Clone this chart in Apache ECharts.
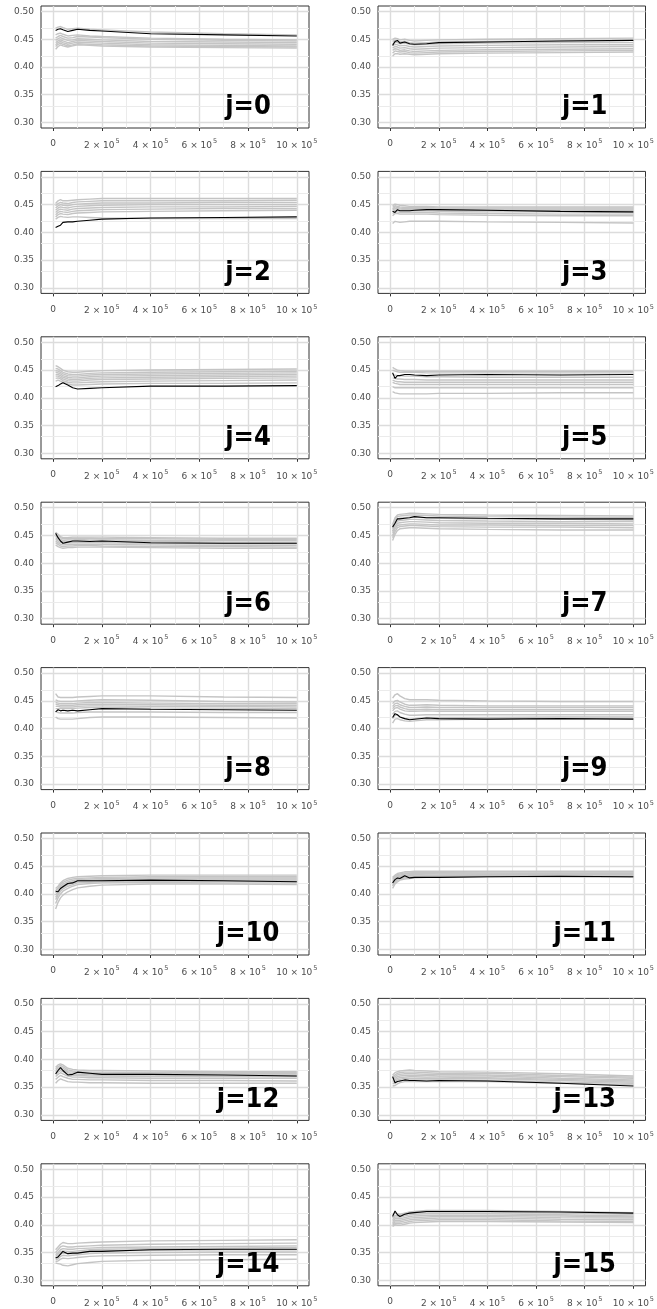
<!DOCTYPE html>
<html><head><meta charset="utf-8">
<script src="https://cdn.jsdelivr.net/npm/echarts@6/dist/echarts.min.js"></script>
<style>html,body{margin:0;padding:0;background:#fff}#c{width:657px;height:1309px}</style>
</head><body><div id="c"></div>
<script>
const xValues = [10000,20000,30000,40000,60000,80000,100000,150000,200000,400000,700000,1000000];
const panelNames = ['j=0','j=1','j=2','j=3','j=4','j=5','j=6','j=7','j=8','j=9','j=10','j=11','j=12','j=13','j=14','j=15'];
const xTicks = [0,200000,400000,600000,800000,1000000];
const xMinor = [100000,300000,500000,700000,900000];
const yTicks = [0.30,0.35,0.40,0.45,0.50];
const yMinor = [0.325,0.375,0.425,0.475];

const black0 = [.466,.468,.469,.467,.464,.466,.468,.466,.465,.460,.458,.456];
const grey0 = [
 [.470,.472,.473,.471,.468,.469,.470,.468,.467,.463,.460,.458],
 [.458,.460,.461,.459,.456,.457,.458,.456,.455,.452,.450,.449],
 [.452,.455,.457,.455,.452,.453,.455,.454,.453,.450,.448,.447],
 [.448,.451,.453,.451,.448,.449,.451,.450,.449,.446,.445,.444],
 [.444,.447,.449,.447,.444,.446,.448,.447,.446,.443,.442,.441],
 [.440,.444,.446,.444,.441,.443,.445,.444,.443,.440,.439,.438],
 [.437,.441,.443,.441,.438,.440,.442,.441,.440,.438,.437,.436],
 [.432,.437,.440,.438,.436,.438,.440,.439,.438,.436,.435,.434]];

const black1 = [.439,.446,.448,.443,.445,.442,.441,.442,.444,.445,.447,.448];
const grey1 = [
 [.450,.452,.451,.449,.450,.448,.447,.448,.449,.450,.451,.452],
 [.446,.448,.447,.445,.446,.444,.443,.444,.445,.446,.447,.448],
 [.442,.445,.444,.442,.443,.441,.440,.441,.442,.443,.444,.444],
 [.438,.441,.440,.438,.439,.437,.436,.437,.438,.439,.440,.440],
 [.434,.437,.436,.434,.435,.433,.432,.433,.434,.435,.436,.437],
 [.430,.433,.432,.430,.431,.429,.428,.429,.430,.431,.432,.433],
 [.425,.429,.428,.427,.428,.426,.425,.426,.427,.428,.429,.430],
 [.420,.424,.424,.423,.424,.423,.422,.423,.424,.425,.426,.427]];

const black2 = [.409,.411,.413,.418,.419,.419,.420,.422,.424,.426,.427,.428];
const grey2 = [
 [.452,.457,.459,.457,.457,.458,.459,.460,.461,.461,.461,.461],
 [.448,.452,.454,.453,.452,.454,.455,.456,.457,.457,.457,.458],
 [.444,.448,.450,.449,.448,.450,.451,.452,.453,.453,.454,.454],
 [.440,.444,.446,.445,.444,.446,.447,.448,.449,.450,.450,.450],
 [.436,.440,.442,.441,.440,.442,.443,.444,.445,.446,.446,.447],
 [.432,.436,.438,.437,.436,.438,.439,.440,.441,.442,.443,.443],
 [.428,.432,.434,.433,.432,.434,.435,.436,.437,.438,.439,.440],
 [.424,.427,.429,.428,.427,.428,.428,.427,.426,.425,.425,.425]];

const black3 = [.438,.436,.441,.439,.439,.439,.440,.441,.441,.440,.438,.437];
const grey3 = [
 [.448,.451,.450,.449,.448,.447,.447,.447,.446,.446,.446,.446],
 [.445,.448,.447,.446,.445,.445,.445,.445,.444,.444,.444,.444],
 [.442,.446,.445,.444,.443,.443,.443,.443,.442,.442,.442,.442],
 [.440,.443,.443,.442,.441,.441,.441,.441,.440,.440,.440,.440],
 [.437,.440,.440,.439,.439,.439,.439,.439,.438,.437,.437,.436],
 [.434,.437,.437,.436,.436,.436,.436,.436,.435,.434,.433,.433],
 [.430,.434,.434,.433,.433,.433,.433,.433,.432,.431,.430,.430],
 [.416,.420,.419,.418,.419,.420,.420,.420,.420,.419,.418,.417]];

const black4 = [.420,.422,.425,.427,.423,.418,.416,.417,.418,.421,.421,.422];
const grey4 = [
 [.458,.456,.453,.450,.447,.446,.446,.448,.449,.450,.451,.452],
 [.453,.452,.449,.446,.443,.442,.442,.444,.445,.446,.447,.448],
 [.449,.448,.446,.443,.440,.439,.439,.441,.442,.443,.444,.445],
 [.446,.445,.443,.440,.437,.436,.436,.438,.439,.440,.441,.442],
 [.442,.442,.440,.437,.434,.433,.433,.435,.436,.437,.438,.439],
 [.439,.439,.437,.434,.431,.430,.430,.432,.433,.434,.435,.436],
 [.435,.436,.434,.431,.428,.427,.427,.428,.429,.430,.431,.432],
 [.430,.432,.430,.428,.425,.423,.423,.424,.425,.426,.426,.427]];

const black5 = [.445,.435,.440,.440,.442,.442,.441,.440,.441,.442,.441,.442];
const grey5 = [
 [.455,.452,.450,.449,.448,.448,.448,.448,.448,.448,.448,.448],
 [.450,.448,.447,.446,.446,.446,.446,.445,.445,.445,.445,.445],
 [.442,.441,.440,.440,.439,.439,.439,.438,.438,.437,.437,.437],
 [.436,.435,.434,.434,.433,.433,.433,.432,.432,.432,.432,.432],
 [.432,.430,.429,.429,.428,.428,.428,.428,.428,.428,.428,.428],
 [.428,.426,.425,.424,.424,.424,.424,.424,.424,.424,.424,.424],
 [.420,.418,.418,.418,.418,.418,.418,.418,.418,.418,.418,.418],
 [.411,.409,.408,.407,.407,.407,.407,.407,.408,.408,.409,.409]];

const black6 = [.454,.446,.440,.436,.438,.440,.440,.439,.440,.437,.436,.436];
const grey6 = [
 [.456,.452,.448,.446,.446,.447,.447,.447,.447,.446,.445,.445],
 [.452,.449,.446,.444,.444,.445,.445,.445,.444,.444,.443,.443],
 [.449,.446,.443,.441,.442,.442,.443,.442,.442,.441,.441,.441],
 [.446,.443,.440,.439,.439,.440,.440,.440,.439,.439,.438,.438],
 [.443,.440,.437,.436,.437,.437,.437,.437,.437,.436,.435,.435],
 [.440,.437,.434,.433,.434,.434,.434,.434,.434,.433,.432,.432],
 [.437,.434,.431,.430,.431,.431,.432,.432,.431,.430,.430,.429],
 [.433,.430,.428,.427,.428,.428,.429,.429,.429,.428,.427,.427]];

const black7 = [.465,.472,.480,.480,.481,.482,.484,.482,.482,.481,.480,.480];
const grey7 = [
 [.470,.482,.487,.488,.489,.490,.490,.489,.488,.487,.486,.485],
 [.466,.478,.484,.485,.486,.487,.487,.486,.485,.484,.483,.482],
 [.462,.474,.480,.481,.482,.483,.483,.482,.481,.480,.479,.478],
 [.458,.470,.476,.477,.478,.479,.479,.478,.477,.476,.475,.475],
 [.455,.466,.472,.473,.474,.475,.475,.474,.473,.472,.472,.471],
 [.450,.462,.468,.469,.470,.471,.471,.470,.469,.469,.468,.468],
 [.446,.457,.464,.466,.467,.468,.468,.467,.466,.465,.465,.464],
 [.441,.452,.459,.462,.463,.464,.464,.463,.462,.461,.460,.460]];

const black8 = [.430,.434,.432,.433,.432,.433,.432,.434,.436,.435,.434,.433];
const grey8 = [
 [.463,.457,.456,.456,.456,.456,.457,.458,.459,.459,.457,.456],
 [.452,.450,.449,.449,.449,.449,.450,.451,.452,.451,.449,.448],
 [.447,.446,.445,.445,.445,.445,.446,.447,.447,.446,.445,.445],
 [.444,.443,.442,.442,.442,.442,.443,.444,.444,.443,.442,.442],
 [.440,.440,.439,.439,.439,.439,.440,.441,.441,.440,.440,.439],
 [.436,.436,.436,.436,.436,.436,.437,.438,.438,.437,.437,.436],
 [.431,.429,.428,.428,.428,.428,.429,.430,.430,.430,.429,.429],
 [.421,.418,.417,.417,.417,.417,.418,.420,.421,.421,.420,.419]];

const black9 = [.420,.427,.425,.421,.418,.416,.417,.419,.418,.417,.418,.417];
const grey9 = [
 [.455,.461,.463,.459,.454,.452,.452,.452,.451,.450,.449,.449],
 [.445,.450,.451,.448,.444,.442,.442,.443,.442,.441,.441,.441],
 [.440,.445,.446,.443,.440,.438,.438,.439,.438,.438,.438,.438],
 [.436,.441,.442,.439,.436,.434,.434,.435,.434,.434,.434,.434],
 [.432,.437,.438,.435,.432,.431,.431,.432,.431,.431,.431,.431],
 [.426,.431,.432,.429,.426,.424,.424,.425,.425,.425,.425,.425],
 [.418,.424,.424,.421,.418,.417,.418,.420,.420,.420,.421,.421],
 [.410,.417,.418,.416,.414,.413,.414,.416,.416,.417,.418,.418]];

const black10 = [.405,.404,.410,.413,.419,.420,.424,.424,.424,.425,.424,.422];
const grey10 = [
 [.410,.414,.420,.424,.428,.430,.431,.432,.433,.434,.434,.434],
 [.406,.411,.417,.421,.425,.427,.428,.429,.430,.431,.431,.431],
 [.402,.408,.414,.418,.422,.424,.426,.427,.428,.429,.429,.429],
 [.398,.405,.411,.415,.419,.422,.424,.425,.426,.427,.427,.427],
 [.394,.401,.408,.412,.417,.420,.422,.423,.424,.425,.425,.425],
 [.390,.398,.405,.409,.414,.417,.420,.421,.422,.423,.423,.423],
 [.383,.393,.400,.405,.410,.414,.417,.419,.420,.421,.420,.420],
 [.373,.385,.393,.398,.404,.408,.411,.414,.416,.418,.418,.417]];

const black11 = [.420,.426,.429,.428,.433,.429,.430,.430,.430,.431,.432,.431];
const grey11 = [
 [.430,.434,.437,.438,.440,.440,.441,.441,.441,.441,.441,.441],
 [.428,.432,.435,.436,.438,.438,.439,.439,.439,.440,.440,.440],
 [.426,.430,.433,.434,.436,.437,.437,.437,.438,.438,.438,.438],
 [.423,.428,.431,.432,.434,.435,.435,.436,.436,.436,.437,.437],
 [.420,.426,.429,.430,.433,.433,.434,.434,.434,.435,.435,.435],
 [.417,.423,.427,.428,.431,.432,.432,.433,.433,.433,.434,.434],
 [.414,.421,.425,.427,.429,.430,.431,.431,.432,.432,.432,.432],
 [.410,.418,.422,.425,.427,.428,.429,.430,.430,.431,.431,.430]];

const black12 = [.374,.380,.385,.380,.372,.373,.377,.375,.373,.373,.372,.370];
const grey12 = [
 [.386,.390,.392,.390,.384,.382,.381,.380,.380,.379,.378,.378],
 [.383,.387,.389,.387,.381,.379,.378,.377,.377,.376,.376,.376],
 [.380,.384,.386,.384,.378,.377,.376,.375,.375,.374,.374,.374],
 [.377,.381,.383,.381,.376,.374,.373,.373,.372,.372,.372,.372],
 [.373,.377,.380,.378,.373,.371,.371,.370,.370,.369,.369,.369],
 [.369,.373,.376,.374,.370,.368,.368,.367,.367,.366,.366,.366],
 [.364,.368,.371,.369,.366,.364,.364,.363,.363,.362,.362,.361],
 [.357,.362,.365,.363,.360,.359,.359,.358,.358,.357,.357,.357]];

const black13 = [.369,.358,.360,.361,.363,.362,.362,.361,.362,.361,.357,.352];
const grey13 = [
 [.372,.376,.378,.379,.380,.381,.380,.379,.378,.377,.374,.370],
 [.369,.372,.375,.376,.377,.377,.377,.376,.375,.375,.371,.368],
 [.366,.369,.372,.373,.374,.374,.374,.373,.373,.372,.369,.366],
 [.364,.366,.369,.370,.371,.371,.371,.371,.370,.370,.366,.363],
 [.361,.363,.366,.367,.368,.369,.369,.368,.368,.367,.364,.361],
 [.359,.360,.363,.364,.366,.366,.366,.366,.365,.365,.362,.359],
 [.356,.357,.360,.361,.363,.363,.363,.363,.363,.362,.359,.357],
 [.352,.353,.356,.358,.360,.360,.360,.360,.360,.360,.357,.354]];

const black14 = [.340,.342,.347,.352,.348,.349,.349,.352,.352,.355,.356,.356];
const grey14 = [
 [.355,.360,.365,.368,.366,.366,.367,.368,.369,.371,.372,.373],
 [.350,.355,.360,.362,.360,.360,.361,.362,.363,.365,.366,.367],
 [.346,.350,.355,.357,.356,.356,.357,.358,.359,.360,.361,.362],
 [.343,.347,.351,.353,.352,.352,.353,.355,.356,.357,.358,.359],
 [.340,.343,.347,.349,.348,.348,.350,.352,.353,.354,.355,.355],
 [.336,.339,.343,.345,.344,.345,.346,.348,.349,.350,.351,.351],
 [.333,.335,.338,.340,.339,.340,.341,.343,.344,.345,.346,.346],
 [.331,.330,.329,.327,.326,.328,.330,.332,.334,.336,.337,.338]];

const black15 = [.415,.425,.418,.415,.419,.421,.422,.424,.424,.424,.423,.421];
const grey15 = [
 [.418,.421,.420,.419,.421,.423,.424,.426,.426,.426,.424,.422],
 [.412,.417,.417,.417,.419,.421,.422,.423,.423,.423,.421,.419],
 [.409,.414,.414,.414,.416,.418,.419,.420,.420,.420,.418,.416],
 [.406,.411,.411,.411,.413,.415,.416,.417,.417,.417,.416,.414],
 [.403,.408,.408,.408,.410,.412,.413,.414,.415,.415,.413,.412],
 [.401,.405,.405,.405,.407,.409,.410,.411,.412,.412,.410,.409],
 [.399,.402,.402,.402,.404,.406,.407,.408,.409,.409,.407,.406],
 [.397,.400,.399,.399,.401,.403,.404,.405,.406,.406,.405,.404]];

const blacks = [black0,black1,black2,black3,black4,black5,black6,black7,black8,black9,black10,black11,black12,black13,black14,black15];
const greys = [grey0,grey1,grey2,grey3,grey4,grey5,grey6,grey7,grey8,grey9,grey10,grey11,grey12,grey13,grey14,grey15];

const FONT = 'DejaVu Sans';
const chart = echarts.init(document.getElementById('c'), null, {renderer: 'canvas'});
const grids = [], xAxes = [], yAxes = [], series = [];
const toPairs = arr => xValues.map((x, i) => [x, arr[i]]);
const gridLineData = [].concat(
  xTicks.map(v => ({xAxis: v, lineStyle: {color: '#dcdcdc', width: 1.4, type: 'solid'}})),
  xMinor.map(v => ({xAxis: v, lineStyle: {color: '#ebebeb', width: 1, type: 'solid'}})),
  yTicks.map(v => ({yAxis: v, lineStyle: {color: '#dcdcdc', width: 1.4, type: 'solid'}})),
  yMinor.map(v => ({yAxis: v, lineStyle: {color: '#ebebeb', width: 1, type: 'solid'}}))
);

panelNames.forEach((name, k) => {
  const col = k % 2, row = Math.floor(k / 2);
  grids.push({left: col ? 378 : 41, top: 6 + row * 165.4, width: 268, height: 122,
    show: true, borderColor: '#333333', borderWidth: 1, backgroundColor: '#ffffff', containLabel: false});
  xAxes.push({gridIndex: k, type: 'value', min: -50000, max: 1050000,
    axisLine: {show: false},
    axisTick: {show: true, customValues: xTicks, length: 3, lineStyle: {color: '#333333', width: 1}},
    axisLabel: {customValues: xTicks, margin: 10, color: '#4d4d4d', fontFamily: FONT,
      formatter: v => v === 0 ? '{z|0}' : '{a|' + Math.round(v / 100000) + ' × 10}{b|5}',
      rich: {
        z: {fontSize: 9, fontFamily: FONT, color: '#4d4d4d', lineHeight: 12, verticalAlign: 'middle'},
        a: {fontSize: 9, fontFamily: FONT, color: '#4d4d4d', lineHeight: 12, verticalAlign: 'bottom'},
        b: {fontSize: 6.5, fontFamily: FONT, color: '#4d4d4d', lineHeight: 8, verticalAlign: 'top', padding: [0, 0, 0, 1]}
      }},
    splitLine: {show: false}, minorSplitLine: {show: false}});
  yAxes.push({gridIndex: k, type: 'value', min: 0.29, max: 0.51,
    axisLine: {show: false},
    axisTick: {show: true, customValues: yTicks, length: 3, lineStyle: {color: '#333333', width: 1}},
    axisLabel: {customValues: yTicks, margin: 7, fontSize: 9, fontFamily: FONT, color: '#4d4d4d',
      formatter: v => v.toFixed(2)},
    splitLine: {show: false}, minorSplitLine: {show: false}});
  greys[k].forEach((g, gi) => {
    const s = {type: 'line', xAxisIndex: k, yAxisIndex: k, data: toPairs(g), symbol: 'none', showSymbol: false,
      lineStyle: {color: '#c4c4c4', width: 1.4}, z: 2, silent: true, animation: false, emphasis: {disabled: true}};
    if (gi === 0) {
      s.markLine = {silent: true, symbol: ['none', 'none'], label: {show: false}, z: 1, animation: false,
        emphasis: {disabled: true}, data: gridLineData};
    }
    series.push(s);
  });
  series.push({type: 'line', xAxisIndex: k, yAxisIndex: k, data: toPairs(blacks[k]), symbol: 'none', showSymbol: false,
    lineStyle: {color: '#000000', width: 1.1}, z: 3, silent: true, animation: false, emphasis: {disabled: true}});
});

chart.setOption({animation: false, backgroundColor: '#ffffff', grid: grids, xAxis: xAxes, yAxis: yAxes, series: series});

const graphics = panelNames.map((name, k) => {
  const p = chart.convertToPixel({gridIndex: k}, [800000, 0.327]);
  return {type: 'text', x: p[0], y: p[1], z: 10, silent: true,
    style: {text: name, fontSize: 27, fontFamily: 'DejaVu Sans Condensed, DejaVu Sans', fontWeight: 'bold', fill: '#000000', textAlign: 'center', textVerticalAlign: 'middle'}};
});
chart.setOption({graphic: graphics});
</script></body></html>
